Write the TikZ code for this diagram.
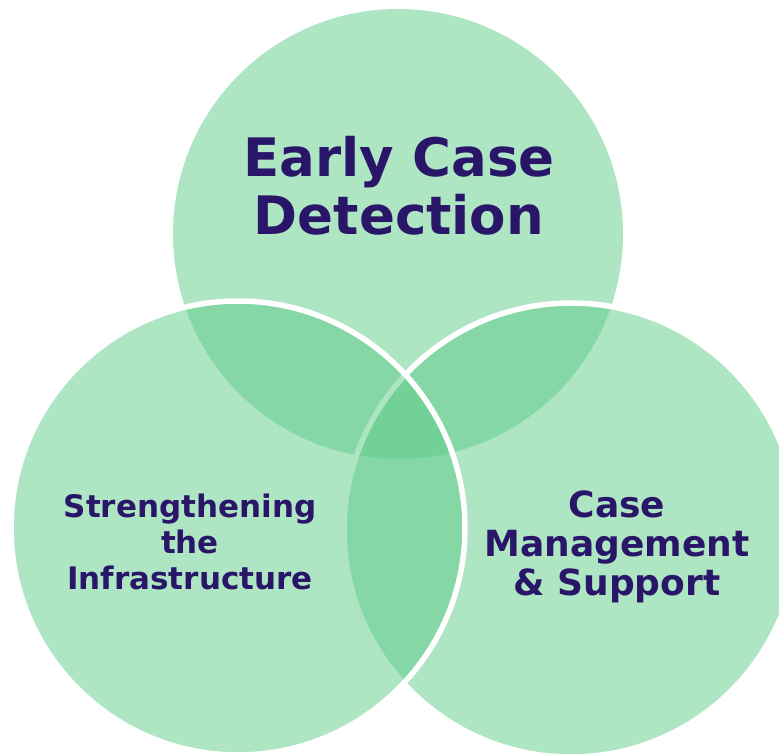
\documentclass[tikz,border=0pt]{standalone}
\usepackage{fontspec}
\setmainfont{DejaVu Sans}
\usepackage{tikz}

\definecolor{venngreen}{HTML}{5DCB87}
\definecolor{venntext}{HTML}{2A1669}

\tikzset{
  set/.style={circle, inner sep=0pt, minimum size=#1, fill=venngreen,
    fill opacity=0.5},
  rim/.style={draw=white, line width=5.5pt},
  lbl/.style={inner sep=0pt, align=center, text=venntext, font=\bfseries}
}

\begin{document}
\begin{tikzpicture}[x=1pt,y=-1pt]
    \useasboundingbox (0,0) rectangle (779,753);

    % the three sets, lower ones with a white rim
    \node[set=450] (ecd) at (398,234) {};
    \node[set=454, rim] (cms) at (571,530) {};
    \node[set=454, rim] (sti) at (238,528) {};

    \node[lbl, font=\bfseries\fontsize{53}{58}\selectfont] (ecdl) at (399,186)
    {Early Case\\Detection};
    \node[lbl, font=\bfseries\fontsize{31}{36}\selectfont] (stil) at (190,542)
    {Strengthening\\the\\Infrastructure};
    \node[lbl, font=\bfseries\fontsize{36}{39}\selectfont] (cmsl) at (617,547)
    {Case\\Management\\\& Support};

  \end{tikzpicture}
\end{document}
